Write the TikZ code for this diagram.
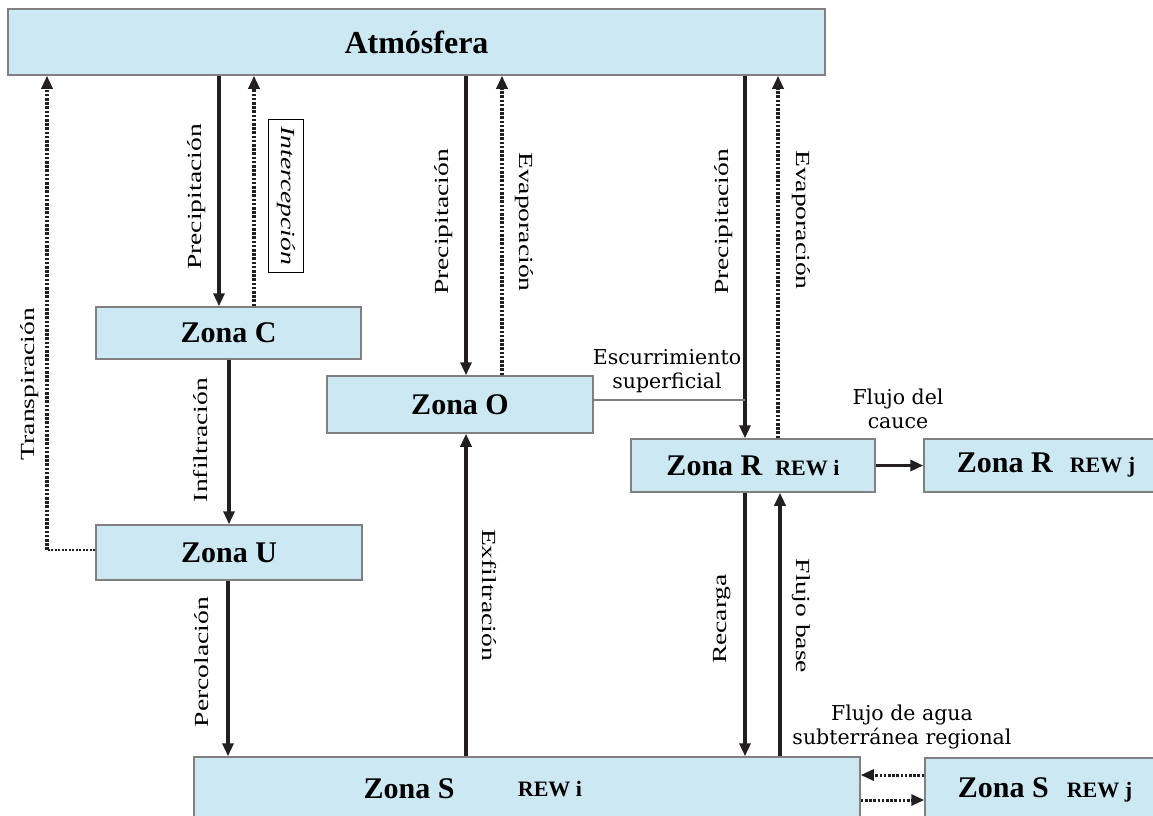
\documentclass[tikz,border=0pt]{standalone}
\usepackage{fontspec}
\setmainfont{Liberation Serif}
\newfontfamily\lblfont[FakeStretch=1.38]{Liberation Serif}
\newfontfamily\hlfont{DejaVu Serif}
\usetikzlibrary{arrows.meta}
\definecolor{boxfill}{RGB}{204,232,243}
\definecolor{boxline}{RGB}{128,128,128}
\definecolor{ink}{RGB}{35,31,32}
\newcommand{\rewf}{\fontsize{22}{24}\selectfont}
\tikzset{
 zone/.style={draw=boxline, line width=1.5pt, fill=boxfill, inner sep=0pt, text=black, font=\bfseries\fontsize{30}{32}\selectfont},
 flow/.style={draw=ink, line width=3.5pt, -{Triangle[length=13pt,width=11pt]}},
 dflow/.style={draw=ink, line width=3.5pt, dash pattern=on 2.6pt off 1.6pt, -{Triangle[length=13pt,width=11pt]}},
 vlab/.style={font=\lblfont\fontsize{20}{21}\selectfont, inner sep=0pt},
 hlab/.style={font=\hlfont\fontsize{20.5}{24}\selectfont, align=center, inner sep=0pt},
}
\begin{document}
\begin{tikzpicture}[x=1pt,y=-1pt]
\clip (0,0) rectangle (1153,815);
\fill[white] (0,0) rectangle (1153,815);
% boxes
\node[zone, minimum width=817pt, minimum height=66pt, font=\bfseries\fontsize{32}{34}\selectfont] (atm) at (416.5,42) {Atmósfera};
\node[zone, minimum width=265pt, minimum height=52pt] (zc) at (228.5,333) {Zona C};
\node[zone, minimum width=266pt, minimum height=57pt] (zo) at (460,404.5) {Zona O};
\node[zone, minimum width=244pt, minimum height=53pt] (zri) at (753,465.5) {Zona R\hspace{13pt}{\rewf REW i}};
\node[zone, minimum width=244pt, minimum height=53pt] (zrj) at (1046,465.5) {Zona R\hspace{17pt}{\rewf REW j}\hspace{12pt}};
\node[zone, minimum width=266pt, minimum height=55pt] (zu) at (229,552.5) {Zona U};
\node[zone, minimum width=666pt, minimum height=66pt] (zsi) at (527,790) {};
\node[zone, minimum width=240pt, minimum height=64pt] (zsj) at (1045,790) {Zona S\hspace{18pt}{\rewf REW j}\hspace{10pt}};
\node[font=\bfseries\fontsize{30}{32}\selectfont, inner sep=0pt] (zsia) at (409,789) {Zona S};
\node[font=\bfseries\rewf, inner sep=0pt] (zsib) at (550,789) {REW i};
% connectors
\draw[flow] (atm.south -| 219,0) -- (zc.north -| 219,0);
\draw[dflow] (zc.north -| 254,0) -- (atm.south -| 254,0);
\coordinate (tcorner) at (47,550);
\draw[draw=ink, line width=2.5pt, dash pattern=on 2pt off 1.5pt] (zu.west |- tcorner) -- (tcorner);
\draw[dflow] (tcorner) -- (atm.south -| tcorner);
\draw[flow] (zc.south -| 229,0) -- (zu.north -| 229,0);
\draw[flow] (zu.south -| 228,0) -- (zsi.north -| 228,0);
\draw[flow] (atm.south -| 466,0) -- (zo.north -| 466,0);
\draw[dflow] (zo.north -| 502,0) -- (atm.south -| 502,0);
\draw[flow] (zsi.north -| 466,0) -- (zo.south -| 466,0);
\draw[flow] (atm.south -| 745,0) -- (zri.north -| 745,0);
\draw[dflow] (zri.north -| 778,0) -- (atm.south -| 778,0);
\coordinate (escend) at (745,400);
\draw[draw=boxline, line width=1.5pt] (zo.east |- escend) -- (escend);
\draw[flow] (zri.east) -- (zrj.west);
\draw[flow] (zri.south -| 745,0) -- (zsi.north -| 745,0);
\draw[flow] (zsi.north -| 780,0) -- (zri.south -| 780,0);
\draw[dflow, line width=3pt] (zsj.west |- 0,775) -- (zsi.east |- 0,775);
\draw[dflow, line width=3pt] (zsi.east |- 0,800) -- (zsj.west |- 0,800);
% labels
\node[vlab, rotate=90] (lpc) at (197,197) {Precipitación};
\node[vlab, rotate=-90, draw=black, line width=1pt, inner xsep=7pt, inner ysep=8pt, font=\lblfont\itshape\fontsize{20}{21}\selectfont] (lint) at (286,196) {Intercepción};
\node[vlab, rotate=90] (ltr) at (30,384) {Transpiración};
\node[vlab, rotate=90] (lin) at (201,440) {Infiltración};
\node[vlab, rotate=90] (lpe) at (202,662) {Percolación};
\node[vlab, rotate=90] (lpo) at (444,222) {Precipitación};
\node[vlab, rotate=-90] (leo) at (524,222) {Evaporación};
\node[vlab, rotate=-90] (lex) at (489,595) {Exfiltración};
\node[vlab, rotate=90] (lpr) at (724,222) {Precipitación};
\node[vlab, rotate=-90] (ler) at (801,220) {Evaporación};
\node[vlab, rotate=90] (lre) at (722,619) {Recarga};
\node[vlab, rotate=-90] (lfb) at (801,616) {Flujo base};
\node[hlab] (les) at (667,371) {Escurrimiento\\superficial};
\node[hlab] (lfc) at (898,409) {Flujo del\\cauce};
\node[hlab] (lfr) at (902,727) {Flujo de agua\\subterránea regional};
\end{tikzpicture}
\end{document}
